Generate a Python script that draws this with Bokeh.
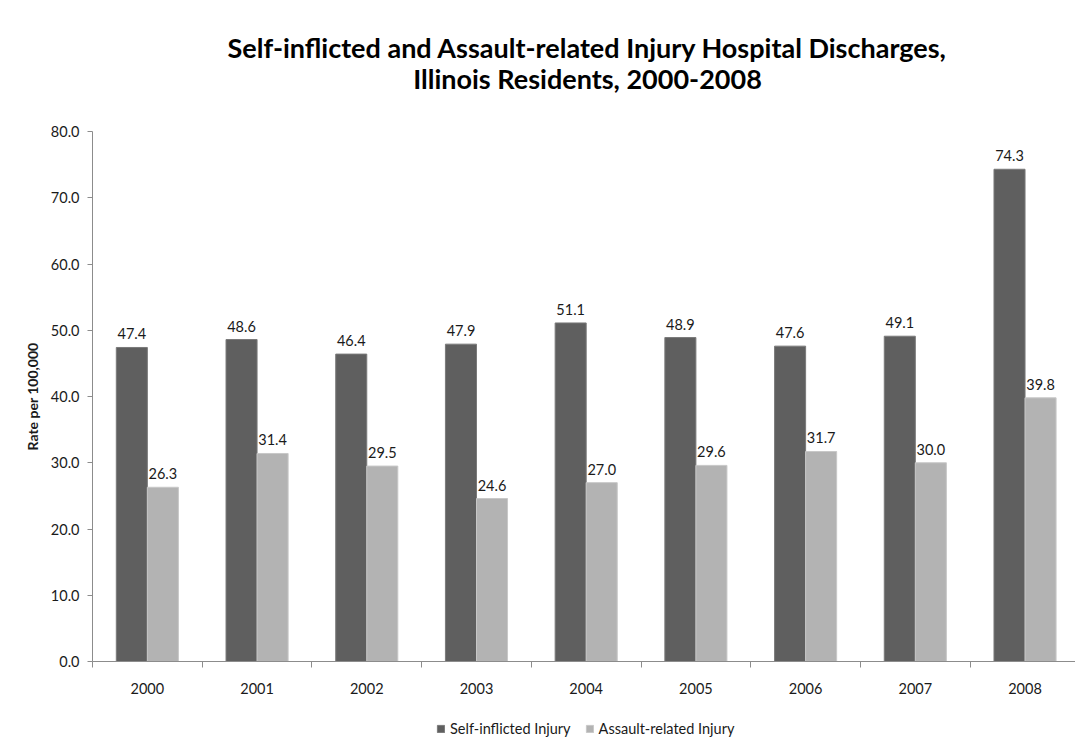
from bokeh.plotting import figure
from bokeh.layouts import column
from bokeh.models import (Range1d, FixedTicker, NumeralTickFormatter, Legend, LegendItem,
                          ColumnDataSource, LinearAxis)
from bokeh.core.properties import value
from bokeh.embed import file_html
from bokeh.resources import INLINE

years = ["2000", "2001", "2002", "2003", "2004", "2005", "2006", "2007", "2008"]
self_inflicted = [47.4, 48.6, 46.4, 47.9, 51.1, 48.9, 47.6, 49.1, 74.3]
assault_related = [26.3, 31.4, 29.5, 24.6, 27.0, 29.6, 31.7, 30.0, 39.8]
y_ticks = [0, 10, 20, 30, 40, 50, 60, 70, 80]
title_lines = ["Self-inflicted and Assault-related Injury Hospital Discharges,",
               "Illinois Residents, 2000-2008"]
series_names = ["Self-inflicted Injury", "Assault-related Injury"]

FONT = "Lato"
TXT = "#1a1a1a"
GRID = "#8c8c8c"
DARK = "#5f5f5f"
LIGHT = "#b3b3b3"
FS = "14.5px"
W = 1075
LEFT = 92  # frame left edge (shared by all stacked figures)

# ---------- title strip (data units = page pixels) ----------
TH = 110
pt = figure(width=W, height=TH, output_backend="svg", toolbar_location=None,
            x_range=Range1d(LEFT, W), y_range=Range1d(0, TH), min_border=0,
            min_border_left=LEFT, x_axis_type=None, y_axis_type=None, title=None)
pt.outline_line_color = None
pt.grid.visible = False
pt.text(x=[587, 587], y=[TH - 47, TH - 78], text=title_lines, text_align="center",
        text_baseline="middle", text_font=value(FONT), text_font_size="27px",
        text_font_style="bold", text_color="#000000")

# ---------- main chart ----------
n = len(years)
centers = [i + 0.5 for i in range(n)]
bw = 0.283
src1 = ColumnDataSource(dict(x=[c - bw / 2 for c in centers], top=self_inflicted,
                             lab=["%.1f" % v for v in self_inflicted]))
src2 = ColumnDataSource(dict(x=[c + bw / 2 for c in centers], top=assault_related,
                             lab=["%.1f" % v for v in assault_related]))

p = figure(width=W, height=591, output_backend="svg", toolbar_location=None,
           x_range=Range1d(0, 8.96), y_range=Range1d(0, 80),
           min_border_left=LEFT, min_border_right=0, min_border_top=21, min_border_bottom=40,
           x_axis_type=None, y_axis_type=None, title=None)
p.outline_line_color = None

yaxis = LinearAxis(ticker=FixedTicker(ticks=y_ticks), formatter=NumeralTickFormatter(format="0.0"))
yaxis.axis_label = "Rate per 100,000"
yaxis.axis_label_text_font = FONT
yaxis.axis_label_text_font_size = "14px"
yaxis.axis_label_text_font_style = "bold"
yaxis.axis_label_text_color = TXT
yaxis.axis_label_standoff = 7
yaxis.major_label_text_font = FONT
yaxis.major_label_text_font_size = FS
yaxis.major_label_text_color = TXT
yaxis.major_label_standoff = 8
yaxis.axis_line_color = GRID
yaxis.major_tick_line_color = GRID
yaxis.major_tick_out = 5
yaxis.major_tick_in = 0
yaxis.minor_tick_line_color = None
p.add_layout(yaxis, "left")

xaxis = LinearAxis(ticker=FixedTicker(ticks=centers, minor_ticks=list(range(n + 1))))
xaxis.major_label_overrides = {c: y for c, y in zip(centers, years)}
xaxis.major_label_text_font = FONT
xaxis.major_label_text_font_size = FS
xaxis.major_label_text_color = TXT
xaxis.major_label_standoff = 15
xaxis.major_tick_line_color = None
xaxis.minor_tick_line_color = GRID
xaxis.minor_tick_out = 6
xaxis.minor_tick_in = 0
xaxis.axis_line_color = GRID
p.add_layout(xaxis, "below")

p.xgrid.grid_line_color = None
p.ygrid.ticker = FixedTicker(ticks=y_ticks)
p.ygrid.grid_line_color = GRID

p.vbar(x="x", top="top", width=bw, bottom=0, source=src1, fill_color=DARK,
       line_color="#7a7a7a", line_width=1)
p.vbar(x="x", top="top", width=bw, bottom=0, source=src2, fill_color=LIGHT,
       line_color="#c8c8c8", line_width=1)

for s in (src1, src2):
    p.text(x="x", y="top", text="lab", source=s, text_align="center", text_baseline="bottom",
           y_offset=-8, text_font=value(FONT), text_font_size=FS, text_color=TXT)

# ---------- legend strip (series glyphs kept out of view, only the key shows) ----------
pl = figure(width=W, height=36, output_backend="svg", toolbar_location=None,
            x_range=Range1d(0, 8.96), y_range=Range1d(500, 501), min_border=0,
            min_border_left=LEFT, x_axis_type=None, y_axis_type=None, title=None)
pl.outline_line_color = None
pl.grid.visible = False
k1 = pl.vbar(x="x", top="top", width=bw, bottom=0, source=src1, fill_color=DARK,
             line_color="#7a7a7a")
k2 = pl.vbar(x="x", top="top", width=bw, bottom=0, source=src2, fill_color=LIGHT,
             line_color="#c8c8c8")
legend = Legend(items=[LegendItem(label=series_names[0], renderers=[k1]),
                       LegendItem(label=series_names[1], renderers=[k2])],
                orientation="horizontal", location=(436 - LEFT, 0))
legend.label_text_font = FONT
legend.label_text_font_size = FS
legend.label_text_color = TXT
legend.label_height = 16
legend.glyph_width = 9
legend.glyph_height = 9
legend.label_standoff = 5
legend.spacing = 14
legend.border_line_color = None
legend.background_fill_alpha = 0
legend.margin = 0
legend.padding = 2
pl.add_layout(legend, "center")

layout = column(pt, p, pl, spacing=0)
open("out.html", "w").write(file_html(layout, INLINE))
